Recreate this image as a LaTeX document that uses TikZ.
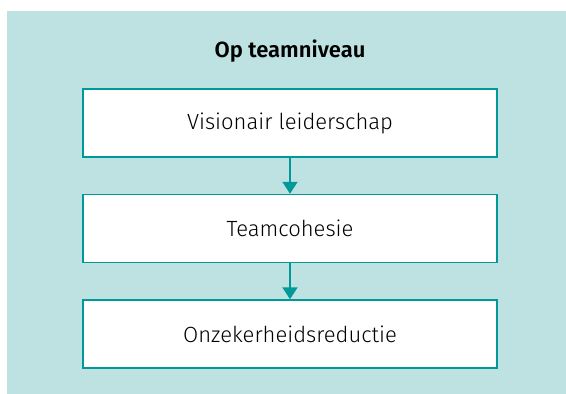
\documentclass[tikz,border=0pt]{standalone}
\usepackage{fontspec}
\setmainfont{Fira Sans Light}[BoldFont={Fira Sans SemiBold}]
\usepackage{tikz}
\usetikzlibrary{positioning,arrows.meta}

\definecolor{tealbg}{RGB}{190,226,226}
\definecolor{tealline}{RGB}{0,153,153}

\tikzset{
 stage/.style = {draw=tealline, line width=1.5pt, fill=white,
   minimum width=414pt, minimum height=68pt, font=\fontsize{22}{25}\selectfont},
 flow/.style = {draw=tealline, line width=2pt, -{Triangle[width=15pt,length=12pt]}}
}

\begin{document}
\begin{tikzpicture}[x=1pt, y=-1pt]
\useasboundingbox (0,0) rectangle (566,394);
\fill[tealbg] (7,11) rectangle (566,394);

\node[font=\fontsize{22}{25}\selectfont\bfseries] (title) at (290,51) {Op teamniveau};
\node[stage] (vis) at (290,123) {Visionair leiderschap};
\node[stage, below=36pt of vis] (coh) {Teamcohesie};
\node[stage, below=36pt of coh] (onz) {Onzekerheidsreductie};

\draw[flow] (vis) -- (coh);
\draw[flow] (coh) -- (onz);
\end{tikzpicture}
\end{document}
